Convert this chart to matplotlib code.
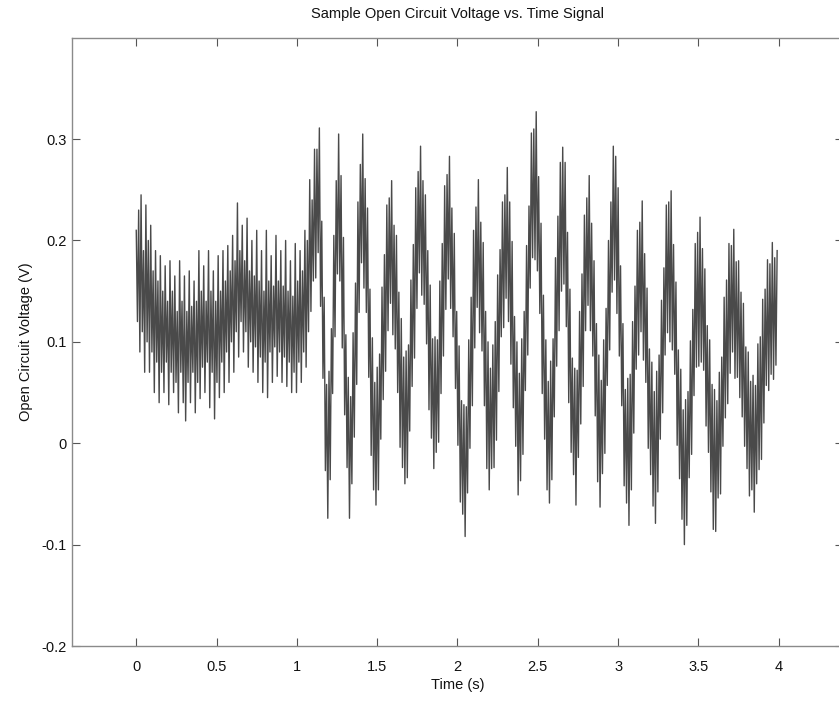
import numpy as np
import matplotlib
matplotlib.use("Agg")
import matplotlib.pyplot as plt

plt.rcParams['font.family'] = ['Liberation Sans', 'DejaVu Sans']

# time step between successive turning points of the recorded trace (s)
dt = 0.0075

# quiet part (0 - 1.1 s): upper and lower turning points of the ripple
calm_peaks = [0.21, 0.23, 0.245, 0.19, 0.235, 0.20, 0.215, 0.17, 0.19, 0.16,
              0.185, 0.15, 0.175, 0.14, 0.18, 0.15, 0.165, 0.13, 0.18, 0.14,
              0.165, 0.13, 0.17, 0.135, 0.16, 0.14, 0.19, 0.15, 0.175, 0.14,
              0.19, 0.15, 0.17, 0.14, 0.185, 0.15, 0.19, 0.16, 0.195, 0.17,
              0.205, 0.18, 0.237, 0.19, 0.215, 0.18, 0.222, 0.17, 0.20, 0.165,
              0.21, 0.16, 0.19, 0.15, 0.21, 0.16, 0.185, 0.155, 0.205, 0.16,
              0.19, 0.155, 0.20, 0.15, 0.18, 0.145, 0.197, 0.16, 0.19, 0.17,
              0.21, 0.20, 0.26, 0.24]
calm_troughs = [0.12, 0.09, 0.11, 0.07, 0.10, 0.07, 0.09, 0.05, 0.08, 0.04,
                0.07, 0.05, 0.08, 0.038, 0.07, 0.05, 0.06, 0.03, 0.07, 0.04,
                0.022, 0.06, 0.04, 0.07, 0.03, 0.06, 0.044, 0.075, 0.05, 0.08,
                0.035, 0.07, 0.024, 0.06, 0.045, 0.08, 0.05, 0.09, 0.06, 0.10,
                0.07, 0.11, 0.085, 0.12, 0.09, 0.11, 0.075, 0.10, 0.07, 0.095,
                0.06, 0.085, 0.05, 0.08, 0.045, 0.09, 0.06, 0.095, 0.066, 0.09,
                0.06, 0.085, 0.056, 0.08, 0.05, 0.07, 0.05, 0.08, 0.06, 0.09,
                0.075, 0.11, 0.13, 0.16]

# oscillating part (1.11 s onwards): successive turning points high, low, ...
osc_a = [0.29, 0.163, 0.29, 0.188, 0.311, 0.135, 0.219, 0.064, 0.144, -0.027,
         0.058, -0.074, 0.071, -0.036, 0.113, 0.049, 0.205, 0.105, 0.259, 0.167,
         0.305, 0.16, 0.264, 0.094, 0.203, 0.028, 0.107, -0.024, 0.065, -0.074,
         0.046, -0.04, 0.109, 0.006, 0.158, 0.058, 0.238, 0.129, 0.275, 0.178,
         0.305, 0.153, 0.261, 0.129, 0.232, 0.065, 0.152, -0.012, 0.104, -0.046,
         0.06, -0.061, 0.075, -0.046, 0.088, 0.004, 0.154, 0.043, 0.186, 0.071,
         0.235, 0.111, 0.242, 0.138, 0.259, 0.107, 0.215, 0.093, 0.205, 0.05,
         0.149, -0.004, 0.123, -0.024, 0.085, -0.04, 0.091, -0.034, 0.097, 0.012,
         0.161, 0.056, 0.196, 0.084, 0.252, 0.133, 0.268, 0.168, 0.293, 0.146,
         0.259, 0.137, 0.245, 0.098, 0.19, 0.033, 0.156, 0.005, 0.103, -0.025,
         0.105, -0.009, 0.102, 0.001, 0.16, 0.049, 0.197, 0.086, 0.254, 0.132,
         0.265, 0.162, 0.283, 0.133, 0.232, 0.105, 0.207, 0.054, 0.13, -0.002]
osc_b = [0.096, -0.058, 0.042, -0.07, 0.038, -0.092, 0.036, -0.049, 0.102, -0.005,
         0.144, 0.037, 0.21, 0.094, 0.233, 0.134, 0.26, 0.109, 0.218, 0.091,
         0.198, 0.037, 0.13, -0.025, 0.1, -0.046, 0.074, -0.025, 0.097, -0.024,
         0.12, 0.003, 0.166, 0.051, 0.191, 0.105, 0.238, 0.114, 0.245, 0.143,
         0.272, 0.12, 0.238, 0.078, 0.199, 0.035, 0.125, -0.003, 0.1, -0.051,
         0.069, -0.037, 0.103, -0.011, 0.13, 0.052, 0.195, 0.087, 0.234, 0.153,
         0.306, 0.183, 0.31, 0.181, 0.327, 0.17, 0.263, 0.128, 0.217, 0.049,
         0.146, 0.004, 0.102, -0.046, 0.061, -0.059, 0.081, -0.036, 0.103, 0.026,
         0.183, 0.076, 0.224, 0.111, 0.277, 0.15, 0.292, 0.157, 0.277, 0.115,
         0.208, 0.04, 0.152, -0.009, 0.084, -0.031, 0.074, -0.061, 0.072, -0.014,
         0.13, 0.019, 0.167, 0.056, 0.225, 0.111, 0.242, 0.136, 0.264, 0.111,
         0.217, 0.086, 0.18, 0.027, 0.118, -0.038, 0.087, -0.063, 0.062, -0.03,
         0.102, -0.01, 0.133, 0.057, 0.2, 0.092, 0.238, 0.149, 0.293, 0.161,
         0.283, 0.128]
osc_c = [0.252, 0.086, 0.175, 0.037, 0.118, -0.042, 0.053, -0.059, 0.064, -0.081,
         0.068, -0.046, 0.12, 0.01, 0.155, 0.073, 0.21, 0.087, 0.218, 0.11,
         0.239, 0.082, 0.187, 0.06, 0.153, -0.005, 0.093, -0.031, 0.08, -0.062,
         0.051, -0.079, 0.071, -0.048, 0.087, 0.004, 0.141, 0.03, 0.173, 0.087,
         0.235, 0.109, 0.238, 0.1, 0.249, 0.092, 0.196, 0.068, 0.159, -0.002,
         0.092, -0.035, 0.073, -0.075, 0.033, -0.10, 0.043, -0.081, 0.051, -0.034,
         0.101, -0.011, 0.132, 0.047, 0.197, 0.075, 0.208, 0.076, 0.223, 0.08,
         0.192, 0.072, 0.172, 0.017, 0.116, -0.009, 0.102, -0.048, 0.058, -0.085,
         0.053, -0.087, 0.042, -0.054, 0.07, -0.05, 0.085, -0.003, 0.144, 0.025,
         0.161, 0.039, 0.197, 0.069, 0.195, 0.09, 0.211, 0.064, 0.179, 0.065,
         0.18, 0.045, 0.149, 0.026, 0.138, -0.003, 0.095, -0.025, 0.09, -0.052,
         0.061, -0.046, 0.067, -0.068, 0.057, -0.04, 0.098, -0.026, 0.105, -0.016,
         0.142, 0.02, 0.152, 0.057, 0.181, 0.052, 0.177, 0.068, 0.198, 0.063,
         0.183, 0.077, 0.19]

calm = []
for hi, lo in zip(calm_peaks, calm_troughs):
    calm += [hi, lo]
volts = np.array(calm + osc_a + osc_b + osc_c)
t = np.arange(len(volts)) * dt

W, H = 839, 701
fig = plt.figure(figsize=(W / 100, H / 100), dpi=100)
ax = fig.add_axes([72 / W, 1 - 646 / H, (843 - 72) / W, (646 - 37.7) / H])

ax.plot(t, volts, color='#4a4a4a', lw=1.0)

ax.set_xlim(-0.4, 4.4)
ax.set_ylim(-0.2, 0.4)
ax.set_xticks([0, 0.5, 1, 1.5, 2, 2.5, 3, 3.5, 4])
ax.set_xticklabels(['0', '0.5', '1', '1.5', '2', '2.5', '3', '3.5', '4'])
ax.set_yticks([-0.2, -0.1, 0, 0.1, 0.2, 0.3])
ax.set_yticklabels(['-0.2', '-0.1', '0', '0.1', '0.2', '0.3'])

for s in ax.spines.values():
    s.set_color('#8a8a8a')
    s.set_linewidth(1.0)
ax.tick_params(direction='in', top=True, right=True, length=5.5, width=0.8,
               color='#555555', labelsize=10.5, labelcolor='#111111')
ax.tick_params(axis='x', pad=10)
ax.tick_params(axis='y', pad=4)

ax.set_title('Sample Open Circuit Voltage vs. Time Signal', fontsize=10.5,
             pad=14, color='#111111')
ax.set_xlabel('Time (s)', fontsize=10.5, labelpad=3, color='#111111')
ax.set_ylabel('Open Circuit Voltage (V)', fontsize=10.5, labelpad=6,
              color='#111111')

fig.savefig('out.png', dpi=100)
